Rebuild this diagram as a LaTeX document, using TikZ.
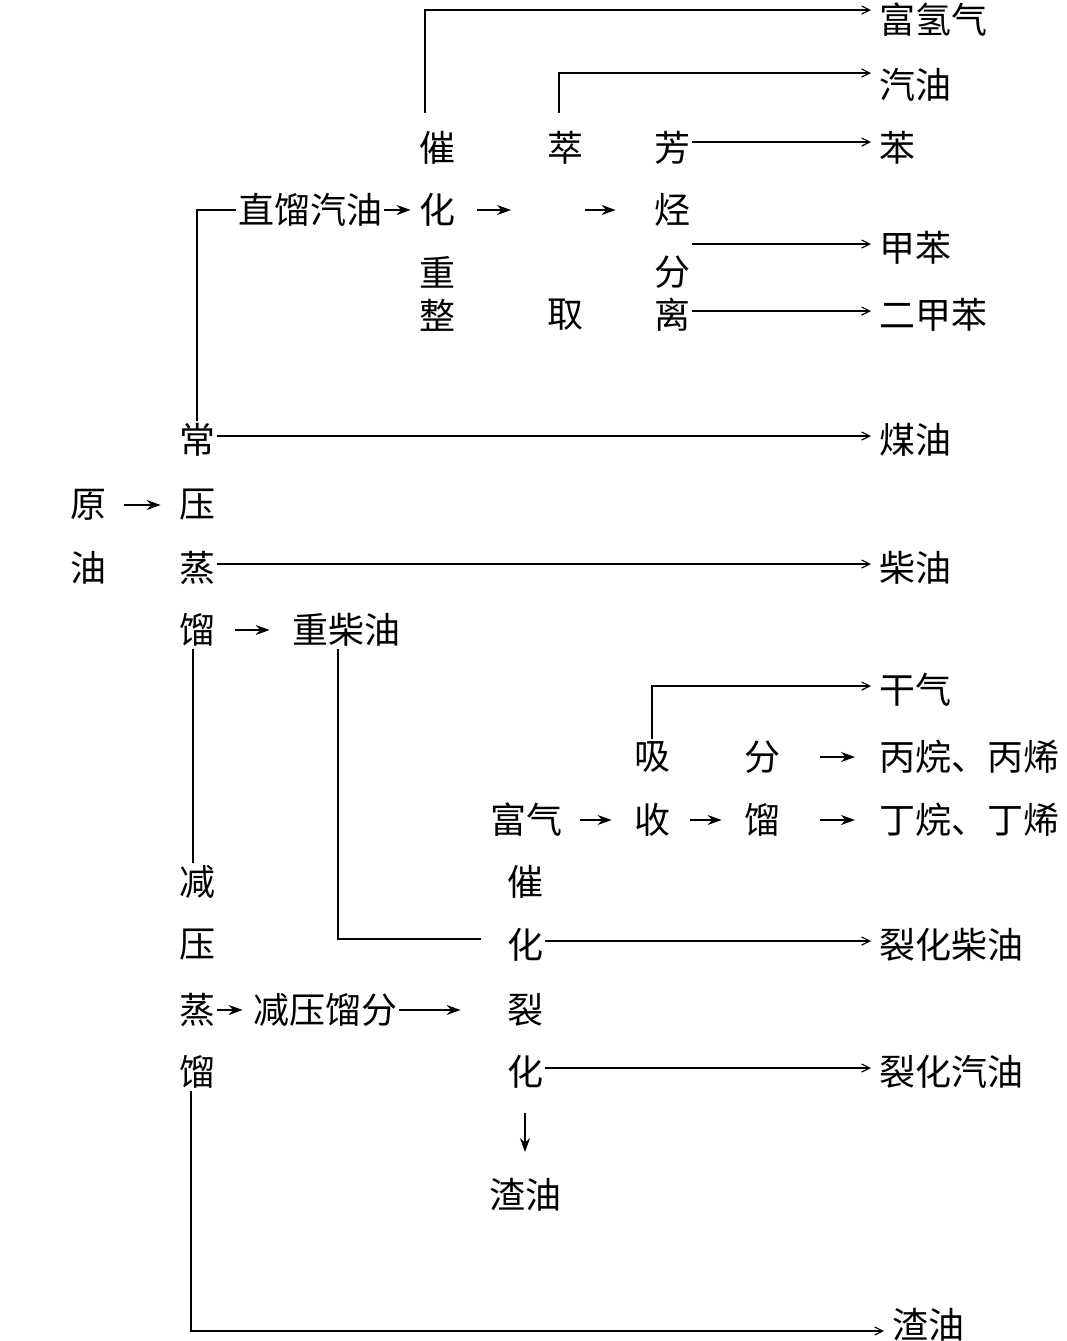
\documentclass[tikz,border=0pt]{standalone}
\usepackage{fontspec}
\setmainfont{Noto Sans CJK SC}
\usetikzlibrary{arrows.meta}

\begin{document}
\begin{tikzpicture}[x=0.5pt, y=-0.5pt,
	every node/.style={inner sep=1pt, font=\fontsize{18pt}{18pt}\selectfont},
	prod/.style={anchor=west},
	flow/.style={-{Stealth[length=7pt,width=5pt]}, line width=0.6pt},
	feed/.style={-{Straight Barb[length=4pt,width=4pt]}, line width=0.6pt, shorten >=3pt}]
	\useasboundingbox (0,0) rectangle (1067,1341);

	% products on the right
	\node[prod] (fuqing) at (877,20) {富氢气};
	\node[prod] (qiyou) at (877,85) {汽油};
	\node[prod] (ben) at (877,148) {苯};
	\node[prod] (jiaben) at (877,248) {甲苯};
	\node[prod] (erjiaben) at (877,315) {二甲苯};
	\node[prod] (meiyou) at (877,440) {煤油};
	\node[prod] (chaiyou) at (877,568) {柴油};
	\node[prod] (ganqi) at (877,690) {干气};
	\node[prod] (bing) at (877,757) {丙烷、丙烯};
	\node[prod] (ding) at (877,820) {丁烷、丁烯};
	\node[prod] (liehuachai) at (877,945) {裂化柴油};
	\node[prod] (liehuaqi) at (877,1072) {裂化汽油};
	\node[prod] (zhayou2) at (890,1325) {渣油};

	% catalytic reforming / extraction / aromatics separation
	\node (cui1) at (437,148) {催};
	\node (hua1) at (437,210) {化};
	\node (zhong1) at (437,272) {重};
	\node (zheng0) at (437,315) {整};
	\node (cui2) at (565,148) {萃};
	\node (qu) at (565,315) {取};
	\coordinate (cuimid) at (565,210);
	\node (fang) at (672,148) {芳};
	\node (ting) at (672,210) {烃};
	\node (fen1) at (672,272) {分};
	\node (li) at (672,315) {离};
	\node (zhiliu) at (310,210) {直馏汽油};

	% crude oil and atmospheric distillation
	\node (yuan) at (88,505) {原};
	\node (you) at (88,568) {油};
	\node (chang) at (197,440) {常};
	\node (ya1) at (197,505) {压};
	\node (zheng1) at (197,568) {蒸};
	\node (liu1) at (197,630) {馏};
	\node (zhongchai) at (346,630) {重柴油};

	% gas absorption and fractionation
	\node (fuqi) at (526,820) {富气};
	\node (xi) at (652,757) {吸};
	\node (shou) at (652,820) {收};
	\node (fen2) at (762,757) {分};
	\node (liu2) at (762,820) {馏};

	% vacuum distillation and catalytic cracking
	\node (jian) at (197,882) {减};
	\node (ya2) at (197,945) {压};
	\node (zheng2) at (197,1010) {蒸};
	\node (liu3) at (197,1072) {馏};
	\node (jianya) at (325,1010) {减压馏分};
	\node (cui3) at (525,882) {催};
	\node (hua3) at (525,945) {化};
	\node (lie) at (525,1010) {裂};
	\node (hua4) at (525,1072) {化};
	\node (zhayou1) at (525,1195) {渣油};

	% connectors
	\draw[line width=0.6pt] (chang.north) |- (zhiliu.west);
	\draw[flow, shorten >=3pt] (zhiliu.east) -- (hua1.west);
	\draw[flow, shorten <=10pt, shorten >=27pt] (hua1.east) -- (cuimid);
	\draw[flow, shorten <=10pt, shorten >=18pt] (cuimid) -- (ting.west);
	\draw[feed, shorten <=8pt] ([xshift=-6pt]cui1.north) |- ([yshift=5pt]fuqing.west);
	\draw[feed, shorten <=8pt] ([xshift=-3pt]cui2.north) |- ([yshift=6pt]qiyou.west);
	\draw[feed] ([yshift=3pt]fang.east) -- ([yshift=3pt]ben.west);
	\draw[feed] (fen1.east |- jiaben.west) ++(0,-4) -- ([yshift=2pt]jiaben.west);
	\draw[feed] ([yshift=2pt]li.east) -- ([yshift=2pt]erjiaben.west);

	\draw[flow, shorten <=8pt, shorten >=8pt] (yuan.east) -- (ya1.west);
	\draw[feed] ([yshift=2pt]chang.east) -- ([yshift=2pt]meiyou.west);
	\draw[feed] ([yshift=2pt]zheng1.east) -- ([yshift=2pt]chaiyou.west);
	\draw[flow, shorten <=9pt, shorten >=10pt] (liu1.east) -- (zhongchai.west);
	\draw[line width=0.6pt] ([xshift=-2pt]liu1.south) -- ([xshift=-2pt]jian.north);
	\draw[line width=0.6pt] ([xshift=-4pt]zhongchai.south) |- ([xshift=-12pt,yshift=3pt]hua3.west);

	\draw[feed] (xi.north) |- ([yshift=2pt]ganqi.west);
	\draw[flow, shorten <=19pt, shorten >=11pt] (fen2.east) -- (bing.west);
	\draw[flow, shorten <=8pt, shorten >=10pt] (fuqi.east) -- (shou.west);
	\draw[flow, shorten <=9pt, shorten >=10pt] (shou.east) -- (liu2.west);
	\draw[flow, shorten <=19pt, shorten >=11pt] (liu2.east) -- (ding.west);

	\draw[feed] ([yshift=2pt]hua3.east) -- ([yshift=2pt]liehuachai.west);
	\draw[feed] ([yshift=2pt]hua4.east) -- ([yshift=2pt]liehuaqi.west);
	\draw[flow, shorten >=4pt] (zheng2.east) -- (jianya.west);
	\draw[flow, shorten >=22pt] (jianya.east) -- (lie.west);
	\draw[flow, shorten <=11pt, shorten >=12pt] (hua4.south) -- (zhayou1.north);
	\draw[feed] ([xshift=-3pt]liu3.south) |- ([yshift=-3pt]zhayou2.west);
\end{tikzpicture}
\end{document}
